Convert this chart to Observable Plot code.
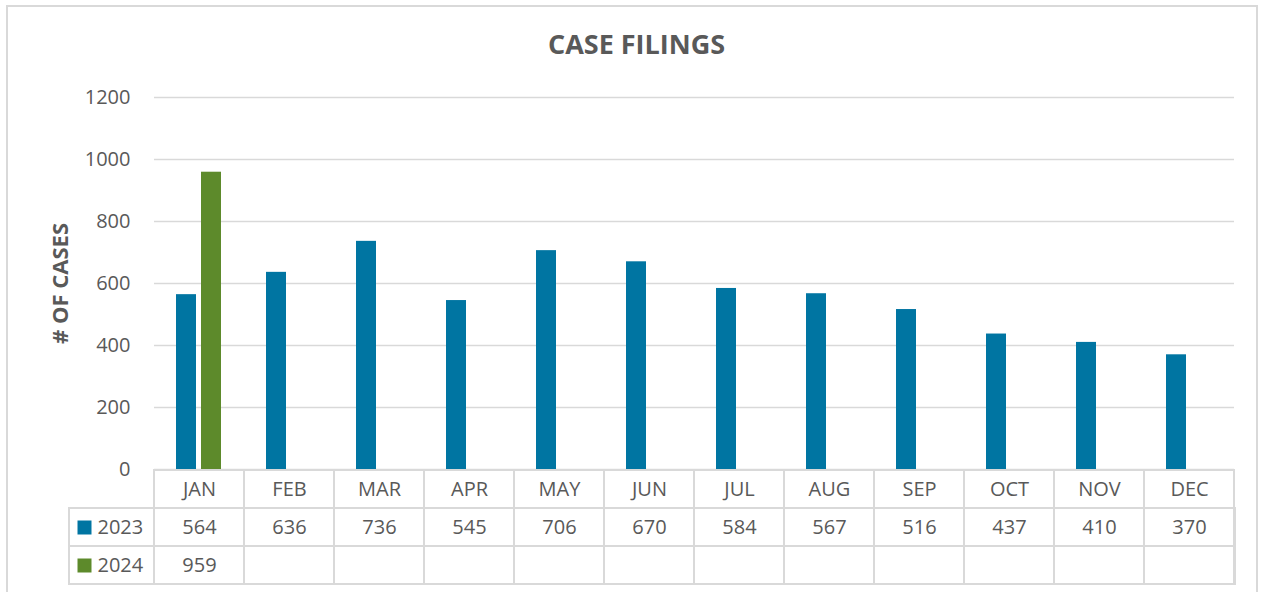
<!DOCTYPE html>
<html>
<head>
<meta charset="utf-8">
<script src="https://cdn.jsdelivr.net/npm/d3@7"></script>
<script src="https://cdn.jsdelivr.net/npm/@observablehq/plot@0.6"></script>
<style>
  html, body { margin: 0; padding: 0; background: #fff; }
  #wrap { position: relative; width: 1266px; height: 592px; overflow: hidden; }
  #border { position: absolute; left: 6px; top: 5px; width: 1252px; height: 620px; border: 2px solid #d9d9d9; box-sizing: border-box; }
  #chart { position: absolute; left: 0; top: 0; }
  #chart svg { display: block; }
</style>
</head>
<body>
<div id="wrap"><div id="border"></div><div id="chart"></div></div>
<script>
const months = ["JAN","FEB","MAR","APR","MAY","JUN","JUL","AUG","SEP","OCT","NOV","DEC"];
const series = ["2023","2024"];
const values2023 = [564,636,736,545,706,670,584,567,516,437,410,370];
const values2024 = [959,null,null,null,null,null,null,null,null,null,null,null];
const yTicks = [0,200,400,600,800,1000,1200];
const colors = ["#0075A2","#5D8A2B"];
const title = "CASE FILINGS";
const yLabel = "# OF CASES";

const seriesValues = {"2023": values2023, "2024": values2024};
const rows = [];
for (const s of series) months.forEach((m, i) => { if (seriesValues[s][i] != null) rows.push({month: m, series: s, value: seriesValues[s][i]}); });

const textColor = "#595959";
const gridColor = "#d9d9d9";
const font = "'Open Sans', sans-serif";

const main = Plot.plot({
  width: 1266,
  height: 469,
  marginLeft: 152,
  marginRight: 31,
  marginTop: 97,
  marginBottom: 0,
  style: {fontFamily: font, color: textColor, background: "transparent", overflow: "visible"},
  fx: {domain: months, padding: 0, axis: null},
  x: {domain: series, paddingInner: 0.196, paddingOuter: 0.868, axis: null},
  y: {domain: [0, 1200], axis: null},
  color: {domain: series, range: colors},
  marks: [
    Plot.ruleY(yTicks, {stroke: gridColor, strokeWidth: 1.3}),
    Plot.axisY({ticks: yTicks, tickSize: 0, tickPadding: 24, fontSize: 20, fill: textColor, label: null, tickFormat: d => String(d)}),
    Plot.barY(rows, {fx: "month", x: "series", y: "value", fill: "series"}),
    Plot.text([title], {frameAnchor: "top", lineAnchor: "middle", dx: -58, dy: -52.5, fontSize: 27, fontWeight: "bold", fill: textColor, facet: "super"}),
    Plot.text([yLabel], {frameAnchor: "left", textAnchor: "middle", dx: -94, rotate: -90, fontSize: 22, fontWeight: "bold", fill: textColor, facet: "super"})
  ]
});

const tableRows = ["month", ...series];
const gridCells = [];
for (const r of tableRows) for (const m of months) gridCells.push({month: m, row: r});
const valueCells = [];
for (const s of series) months.forEach((m, i) => { if (seriesValues[s][i] != null) valueCells.push({month: m, row: s, value: String(seriesValues[s][i])}); });

const table = Plot.plot({
  width: 1266,
  height: 124,
  marginLeft: 69,
  marginRight: 31,
  marginTop: 1,
  marginBottom: 9,
  style: {fontFamily: font, color: textColor, background: "transparent", overflow: "visible"},
  x: {type: "band", domain: months, range: [152, 1235], padding: 0, axis: null},
  y: {type: "band", domain: tableRows, padding: 0, axis: null},
  color: {domain: series, range: colors},
  marks: [
    Plot.cell(series, {y: d => d, fill: "none", stroke: gridColor, strokeWidth: 2, inset: 0}),
    Plot.cell(gridCells, {x: "month", y: "row", fill: "none", stroke: gridColor, strokeWidth: 2, inset: 0}),
    Plot.text(months, {x: d => d, y: () => "month", fontSize: 20, fill: textColor}),
    Plot.text(valueCells, {x: "month", y: "row", text: "value", fontSize: 20, fill: textColor}),
    Plot.dot(series, {y: d => d, frameAnchor: "left", dx: 15, symbol: "square", r: 7.9, fill: d => d, stroke: null}),
    Plot.text(series, {y: d => d, text: d => d, frameAnchor: "left", dx: 28, textAnchor: "start", fontSize: 20, fill: textColor})
  ]
});

const chart = document.getElementById("chart");
chart.appendChild(main);
chart.appendChild(table);
</script>
</body>
</html>
